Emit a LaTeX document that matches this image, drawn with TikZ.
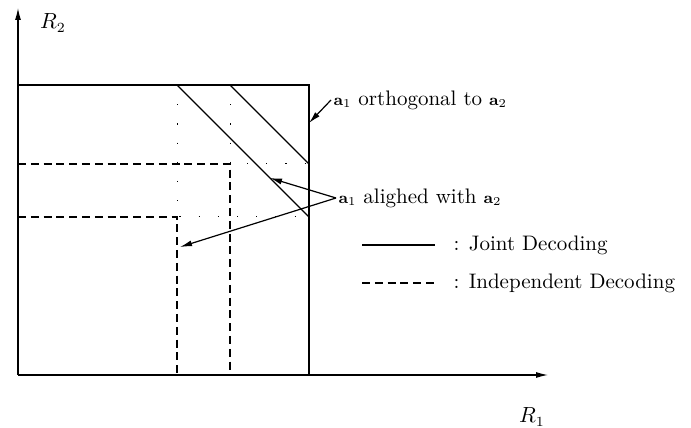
\documentclass[tikz,border=0pt]{standalone}
\usetikzlibrary{arrows.meta}
\begin{document}
\begin{tikzpicture}[x=0.5pt, y=0.5pt, line width=0.6pt,
    every node/.style={inner sep=1pt, font=\fontsize{10.5}{12}\selectfont},
    indep/.style={dash pattern=on 4pt off 2.4pt},
    aux/.style={line width=0.5pt, dash pattern=on 0.6pt off 9pt},
    pointer/.style={-{Latex[length=6pt,width=3pt]}}]
  \useasboundingbox (-18,-53) rectangle (673,375);
  % axes
  \draw[pointer] (0,0) -- (530,0);
  \draw[pointer] (0,0) -- (0,367);
  \node (rtwo) at (35,352) {$R_2$};
  \node (rone) at (514,-42) {$R_1$};

  % joint decoding
  \draw (0,290) -- (291,290) -- (291,0);
  \draw (159,290) -- (291,158);
  \draw (212,290) -- (291,211);

  % independent decoding
  \draw[indep] (0,211) -- (212,211) -- (212,0);
  \draw[indep] (0,158) -- (159,158) -- (159,0);

  % helper lines
  \draw[aux] (159,290) -- (159,158) -- (291,158);
  \draw[aux] (212,290) -- (212,211) -- (291,211);

  % labels
  \coordinate (orthtip) at (291,252);
  \coordinate (jointtip) at (252,197);
  \coordinate (indeptip) at (162,128);
  \node[anchor=west] (orth) at (313,275) {{\footnotesize$\mathbf{a}_1$} orthogonal to {\footnotesize$\mathbf{a}_2$}};
  \node[anchor=west] (align) at (318,177) {{\footnotesize$\mathbf{a}_1$} alighed with {\footnotesize$\mathbf{a}_2$}};
  \draw[pointer] (orth.west) -- (orthtip);
  \draw[pointer] (align.west) -- (jointtip);
  \draw[pointer] (align.west) -- (indeptip);

  % legend
  \coordinate (ja) at (344,130);
  \coordinate (jb) at (417,130);
  \coordinate (ia) at (344,92);
  \coordinate (ib) at (419,92);
  \draw (ja) -- (jb);
  \draw[indep] (ia) -- (ib);
  \node[anchor=west] (jtext) at (433,130) {: Joint Decoding};
  \node[anchor=west] (itext) at (433,92) {: Independent Decoding};
\end{tikzpicture}
\end{document}
